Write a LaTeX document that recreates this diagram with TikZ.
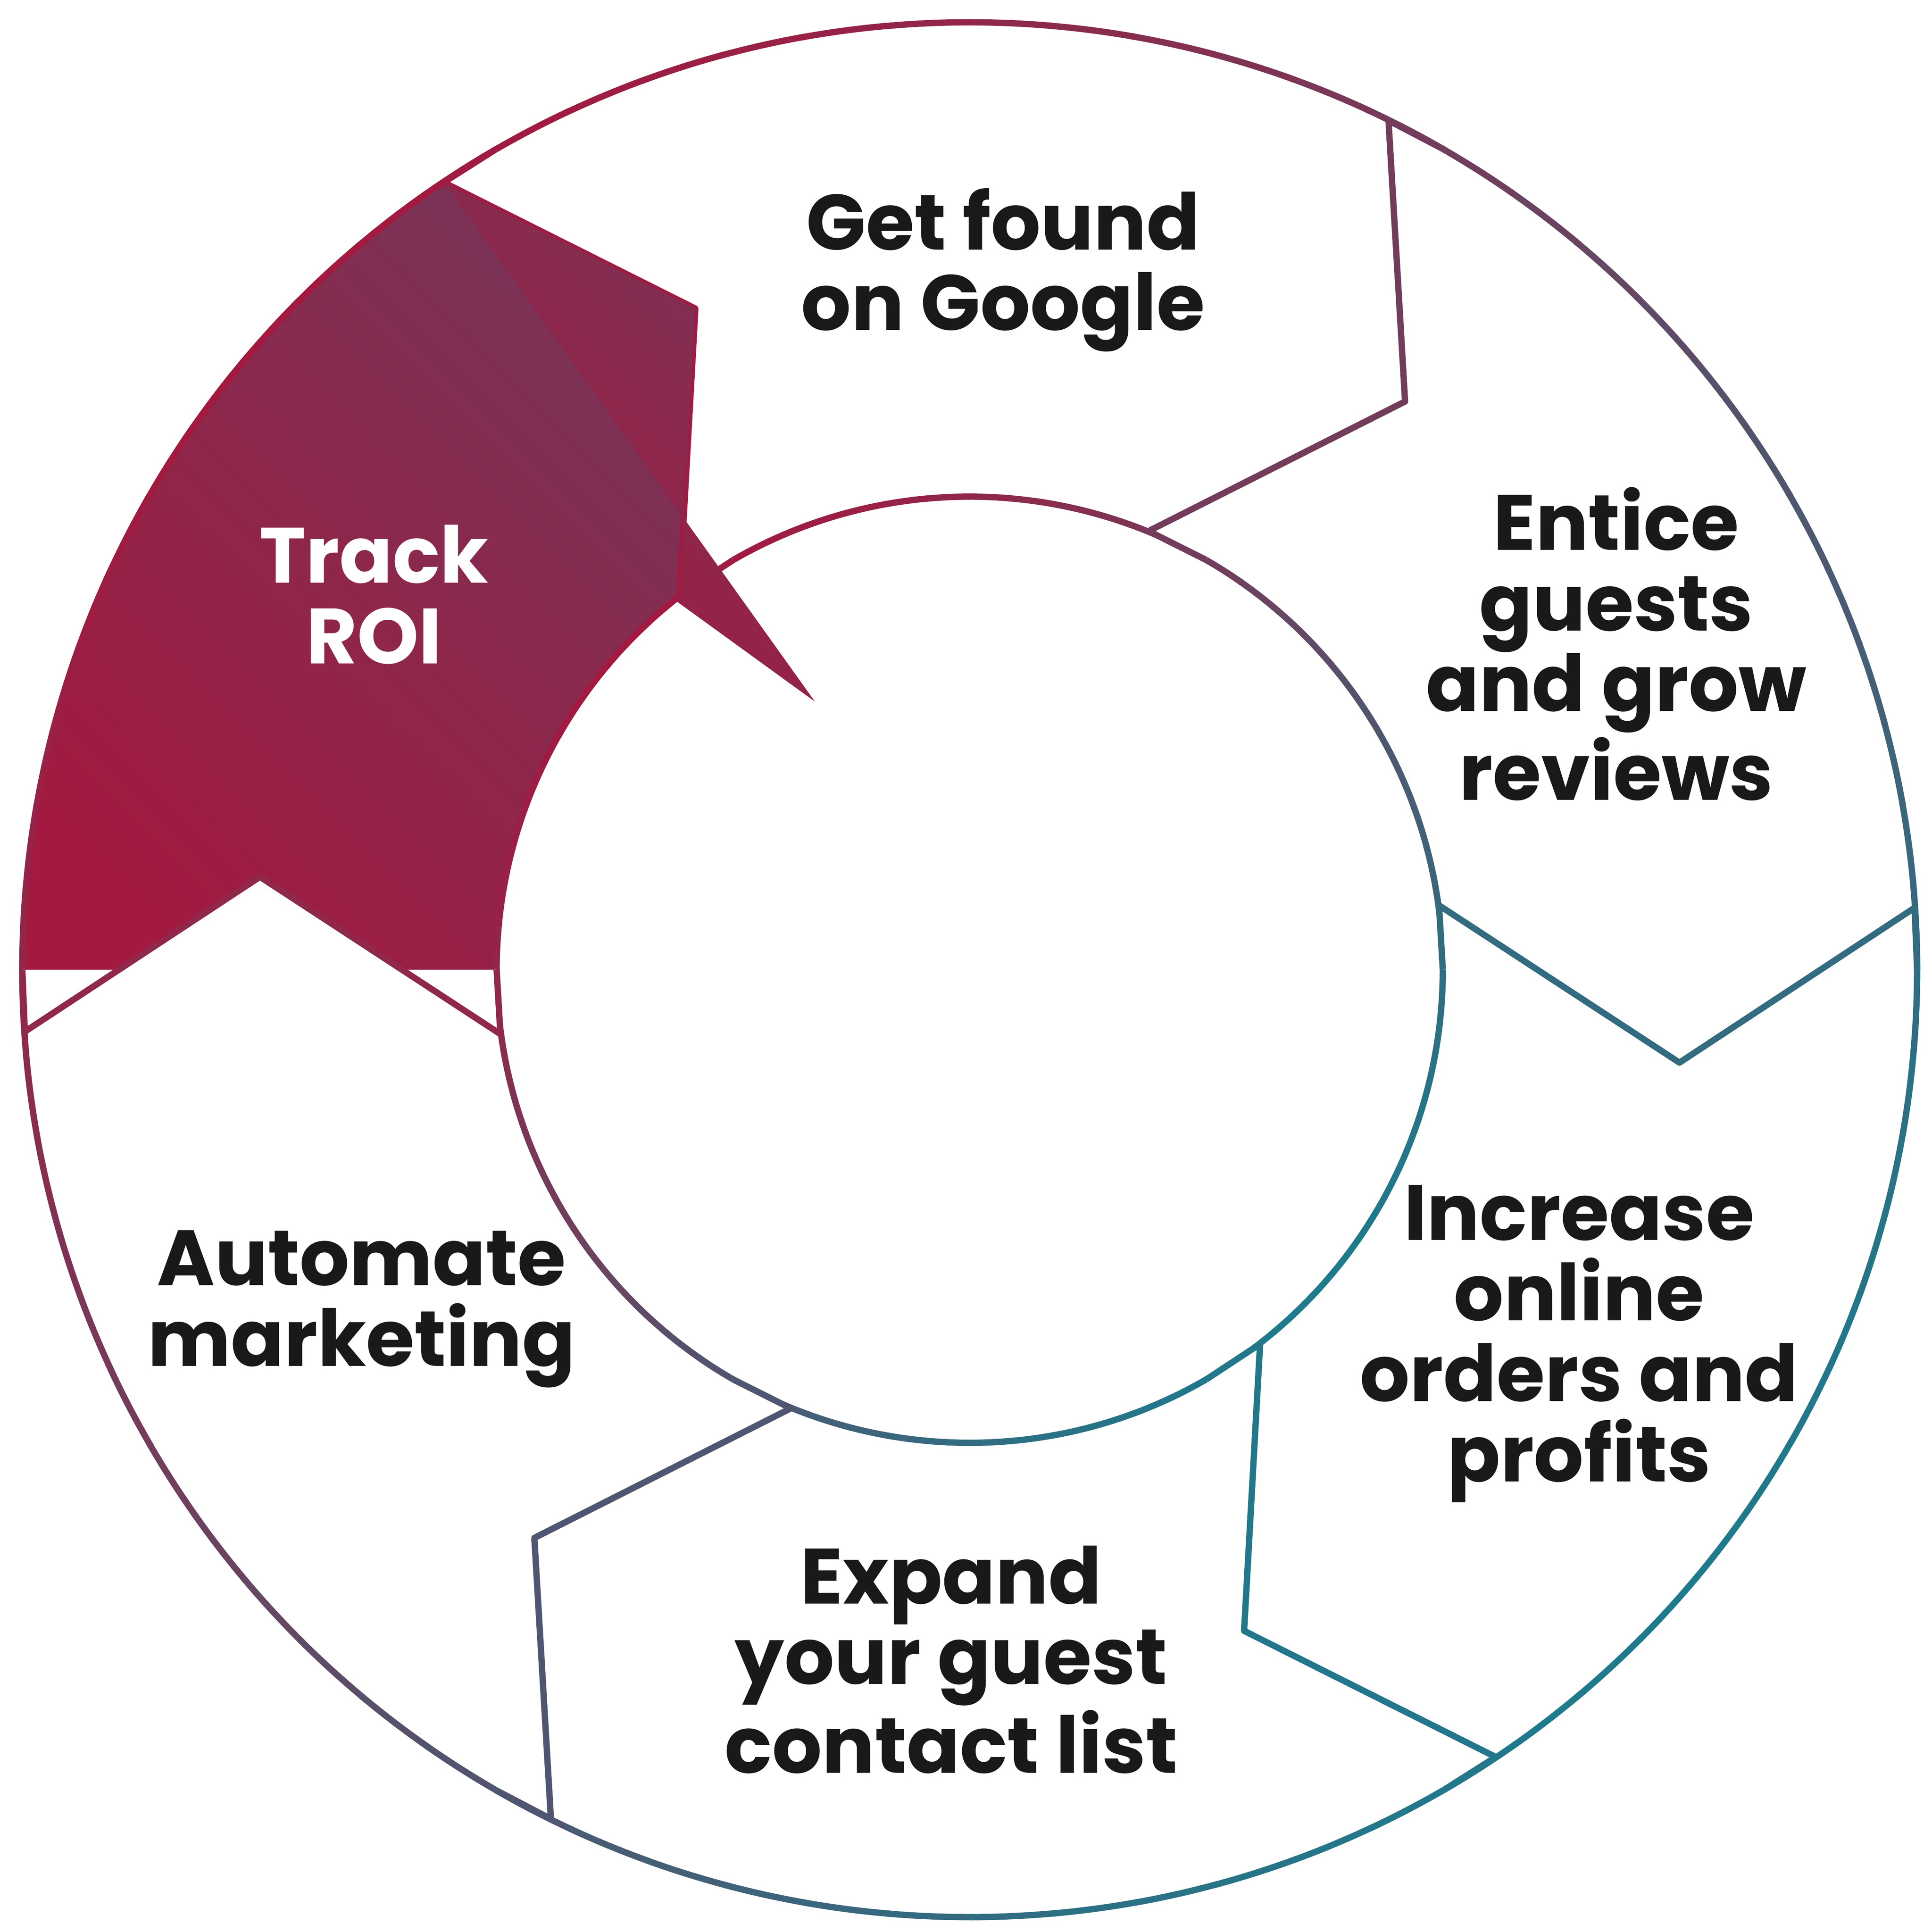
\documentclass[tikz,border=0pt]{standalone}
\usepackage{fontspec}
\setmainfont{Poppins}[UprightFont=* SemiBold,BoldFont=* Bold]
\definecolor{cA}{HTML}{A3193F}
\definecolor{cB}{HTML}{1F7A8C}
\definecolor{cP}{HTML}{7A3357}
\tikzset{lab/.style={align=center,font=\bfseries\fontsize{18}{18.5}\selectfont,text=black!90},
 ln/.style={line width=1.45pt,line join=round}}
\begin{document}
\begin{tikzpicture}[x=0.01cm,y=0.01cm]
\useasboundingbox (-783,-777) rectangle (777,783);
\fill[white] (-783,-777) rectangle (777,783);
% Track ROI fill
\path[ln,left color=cA,right color=cP,shading angle=135] (123.75:764.6)--(112.54:578)--(127.81:382.5) arc[start angle=127.81,end angle=180,radius=382] -- (187.81:382.5)--(172.54:578)--(183.75:764.6)--(180:765) arc[start angle=180,end angle=123.75,radius=765] -- cycle;
% circles in pieces
\foreach \a in {0,5,...,355}{
 \pgfmathsetmacro{\t}{round(100*(1-cos(\a+2.5-135))/2)}
 \draw[ln,line cap=round,color=cB!\t!cA] (\a:765) arc[start angle=\a,end angle=\a+5.2,radius=765];
 \draw[ln,line cap=round,color=cB!\t!cA] (\a:382) arc[start angle=\a,end angle=\a+5.2,radius=382];
}
% boundaries
\foreach \k in {0,...,5}{
 \pgfmathsetmacro{\t}{round(100*(1-cos(60*\k-135))/2)}
 \draw[ln,color=cB!\t!cA,fill=white] (60*\k:765)--(60*\k+3.75:764.6)--(60*\k-7.46:578)--(60*\k+7.81:382.5)--(60*\k:382);
}
\path[ln,left color=cA,right color=cP,shading angle=135] (123.75:764.6)--(112.54:578)--(127.81:382.5)--(128.5:380)--(120:250)--cycle;
\node[lab] (g) at (27,565) {Get found\\on Google};
\node[lab] (e) at (522,263) {Entice\\guests\\and grow\\reviews};
\node[lab] (i) at (492,-302) {Increase\\online\\orders and\\profits};
\node[lab] (x) at (-15,-557) {Expand\\your guest\\contact list};
\node[lab] (m) at (-491,-274) {Automate\\marketing};
\node[lab,text=white] (r) at (-481,303) {Track\\ROI};
\end{tikzpicture}
\end{document}
